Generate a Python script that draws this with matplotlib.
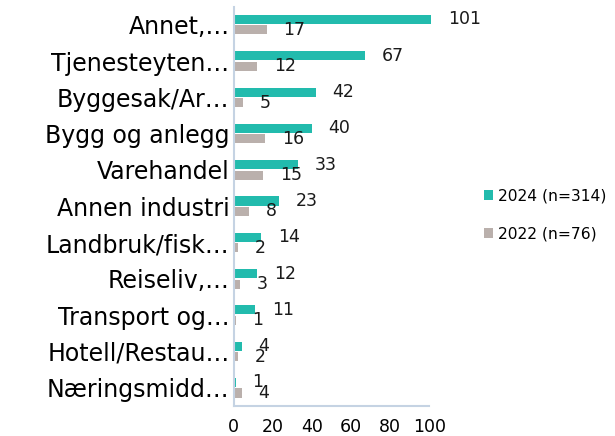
import numpy as np
import matplotlib
matplotlib.use("Agg")
from matplotlib import pyplot as plt

# Data
categories = ["Annet,…", "Tjenesteyten…", "Byggesak/Ar…", "Bygg og anlegg",
              "Varehandel", "Annen industri", "Landbruk/fisk…", "Reiseliv,…",
              "Transport og…", "Hotell/Restau…", "Næringsmidd…"]
values_2024 = [101, 67, 42, 40, 33, 23, 14, 12, 11, 4, 1]
values_2022 = [17, 12, 5, 16, 15, 8, 2, 3, 1, 2, 4]
series_labels = ["2024 (n=314)", "2022 (n=76)"]

teal = "#22BBAD"
grey = "#BAB0AC"
spine_col = "#C5D3E3"

plt.rcParams['font.family'] = ['DejaVu Sans']

fig = plt.figure(figsize=(6.15, 4.36), dpi=100)
ax = fig.add_axes([0.380, 0.069, 0.318, 0.916])

y = np.arange(len(categories))
h = 0.25
off = 0.145
b1 = ax.barh(y - off, values_2024, height=h, color=teal, label=series_labels[0], clip_on=False)
b2 = ax.barh(y + off, values_2022, height=h, color=grey, label=series_labels[1], clip_on=False)

# value labels just right of each bar
for bars, vals in ((b1, values_2024), (b2, values_2022)):
    for rect, v in zip(bars, vals):
        ax.annotate(str(v), (rect.get_width(), rect.get_y() + rect.get_height() / 2),
                    xytext=(12, 0), textcoords="offset points",
                    ha="left", va="center", fontsize=12.5, color="#1a1a1a",
                    annotation_clip=False)

ax.set_xlim(0, 100)
ax.set_ylim(len(categories) - 0.5, -0.5)
ax.set_xticks([0, 20, 40, 60, 80, 100])
ax.set_yticks(y)
ax.set_yticklabels(categories, fontsize=17)
ax.tick_params(axis="y", length=0, pad=3)
ax.tick_params(axis="x", length=0, pad=9, labelsize=12.5)

for s in ["top", "right"]:
    ax.spines[s].set_visible(False)
for s in ["left", "bottom"]:
    ax.spines[s].set_color(spine_col)
    ax.spines[s].set_linewidth(1.5)

fig.legend(handles=[b1, b2], labels=series_labels, loc="upper left",
           bbox_to_anchor=(0.764, 0.6), frameon=False, fontsize=11.2,
           handlelength=0.6, handleheight=0.6, handletextpad=0.3,
           labelspacing=1.5)

fig.savefig("out.png", dpi=100)
